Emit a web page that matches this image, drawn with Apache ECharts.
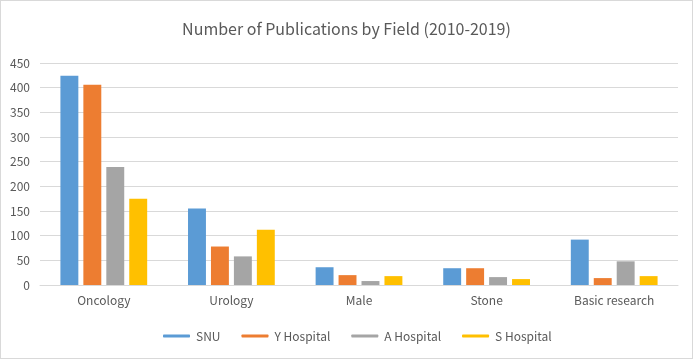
<!DOCTYPE html>
<html><head><meta charset="utf-8">
<script src="https://cdn.jsdelivr.net/npm/echarts@6/dist/echarts.min.js"></script>
<style>html,body{margin:0;padding:0;background:#fff}#c{width:693px;height:359px;box-sizing:border-box;border:1px solid #d9d9d9}</style>
</head><body><div id="c"></div>
<script>
const categories = ['Oncology', 'Urology', 'Male', 'Stone', 'Basic research'];
const snu = [424, 155, 36, 34, 92];
const yHospital = [406, 78, 20, 34, 14];
const aHospital = [239, 58, 8, 16, 48];
const sHospital = [175, 112, 18, 12, 18];
const seriesNames = ['SNU', 'Y Hospital', 'A Hospital', 'S Hospital'];
const colors = ['#5B9BD5', '#ED7D31', '#A5A5A5', '#FFC000'];
const font = '"Noto Sans CJK KR", "Noto Sans", sans-serif';
const chart = echarts.init(document.getElementById('c'));
const data = [snu, yHospital, aHospital, sHospital];
chart.setOption({
  animation: false,
  title: { text: 'Number of Publications by Field (2010-2019)', left: 'center', top: 15,
    textStyle: { fontFamily: font, fontSize: 16, fontWeight: 'normal', color: '#595959' } },
  grid: { left: 39, right: 14, top: 62, bottom: 73 },
  legend: { left: 157, bottom: 11, itemGap: 21, itemWidth: 27, itemHeight: 3, icon: 'roundRect',
    textStyle: { fontFamily: font, fontSize: 12, color: '#595959', padding: [0, 0, 0, 1] } },
  xAxis: { type: 'category', data: categories,
    axisLine: { lineStyle: { color: '#d9d9d9' } }, axisTick: { show: false },
    axisLabel: { fontFamily: font, fontSize: 12, color: '#595959', margin: 9 } },
  yAxis: { type: 'value', min: 0, max: 450, interval: 50,
    axisLine: { show: false }, axisTick: { show: false },
    splitLine: { lineStyle: { color: '#d9d9d9' } },
    axisLabel: { fontFamily: font, fontSize: 12, color: '#595959', margin: 10 } },
  series: seriesNames.map((n, i) => ({ name: n, type: 'bar', data: data[i],
    itemStyle: { color: colors[i] }, barGap: '28%', barCategoryGap: '32%' }))
});
</script></body></html>
